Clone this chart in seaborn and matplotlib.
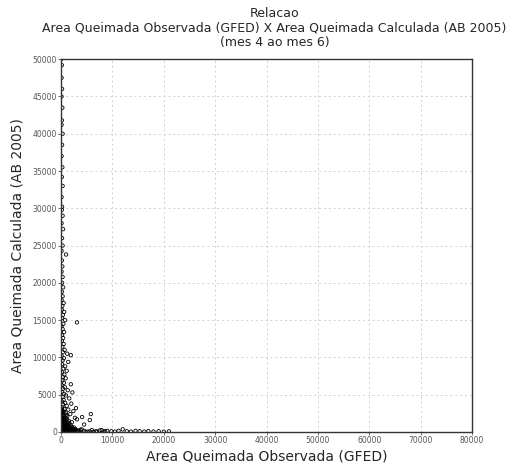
import numpy as np
import matplotlib
matplotlib.use('Agg')
import matplotlib.pyplot as plt
import seaborn as sns
import pandas as pd

# Points along the y axis (observed area small, calculated area large)
col_x = [0, 150, 100, 200, 100, 250, 150, 100, 300, 200, 100, 250, 150, 300, 100, 200, 150, 300,
         100, 400, 200, 300, 100, 980, 150, 250, 100, 300, 200, 400, 150, 300, 100, 500, 250, 150,
         600, 350, 200, 800, 3100, 450, 100, 300, 600, 200, 400, 150, 500, 250, 700, 350, 1200, 100,
         1900, 550, 300, 1400, 200, 800, 450, 1100, 150, 650, 350, 900, 250, 1900, 550, 100, 750,
         400, 1300, 200, 2200, 600, 950, 300, 1600, 500, 150, 800, 2000, 400, 1100, 250, 2900, 650,
         1400, 100, 2400, 500, 900, 300, 1800, 5800, 4100, 600, 1200, 200, 2700, 3100, 5600, 400,
         800, 1500, 100, 2100, 600, 1000, 300, 4500]
col_y = [50000, 49200, 47500, 46000, 45000, 43500, 41800, 41200, 40000, 38500, 37000, 35500,
         34200, 33000, 31500, 30200, 29800, 29000, 28000, 27200, 26000, 25000, 24300, 23800,
         23000, 22200, 21500, 20800, 20000, 19400, 18800, 18200, 17700, 17300, 16900, 16400,
         16100, 15700, 15300, 15000, 14700, 14500, 14200, 13800, 13400, 13000, 12600, 12200,
         11800, 11400, 11000, 10700, 10500, 10200, 10300, 9900, 9600, 9400, 9100, 8800, 8500,
         8200, 8000, 7700, 7400, 7200, 6900, 6400, 6600, 6300, 6000, 5800, 5600, 5400, 5300,
         5100, 4900, 4700, 4500, 4300, 4100, 3900, 3800, 3700, 3500, 3300, 3200, 3100, 3000,
         2900, 2800, 2700, 2600, 2500, 2400, 2400, 2000, 2200, 2100, 2000, 1900, 1700, 1600,
         1800, 1600, 1500, 1400, 1300, 1200, 1100, 1000, 1000]

# Dense cluster near the origin
base_x = [50, 200, 400, 600, 800, 1000, 1200, 1400, 1600, 1800, 100, 300, 500, 700, 900, 1100,
          1300, 1500, 1700, 150, 350, 550, 750, 950, 1150, 1350, 250, 450, 650, 850, 1050, 50,
          200, 400, 600, 800, 100, 300, 500, 700, 150, 350, 550, 250, 450, 50, 200, 100, 300, 150,
          2000, 2200, 2400, 1900, 2100, 2300, 2600, 1250, 1450, 1650, 1850, 700, 900, 1000, 1300,
          1100, 1600, 2500, 2800, 3000, 3300, 3600]
base_y = [100, 150, 80, 200, 120, 60, 180, 90, 40, 130, 400, 350, 450, 300, 380, 420, 280, 330,
          250, 650, 700, 600, 550, 680, 520, 580, 900, 850, 950, 800, 870, 1150, 1100, 1250, 1050,
          1200, 1450, 1550, 1400, 1350, 1750, 1700, 1850, 2150, 2250, 2450, 2550, 2750, 2850, 3050,
          100, 250, 60, 500, 700, 400, 150, 1000, 800, 650, 900, 1650, 1900, 2300, 1300, 1700,
          1200, 600, 300, 80, 200, 120]

# Points along the x axis (calculated area small)
band_x = [2500, 3200, 3800, 4500, 5200, 6000, 6800, 7500, 8200, 9000, 9800, 10500, 11200, 12000,
          12800, 13600, 14500, 15300, 16200, 17000, 18000, 19000, 20000, 21000, 2800, 4000, 5600,
          7000, 8600, 4800, 6300, 7900]
band_y = [200, 100, 300, 150, 50, 250, 100, 200, 50, 150, 100, 50, 150, 350, 100, 50, 150, 100,
          50, 120, 60, 100, 40, 80, 400, 350, 80, 30, 120, 30, 20, 250]

df = pd.DataFrame({'obs': col_x + base_x + band_x, 'calc': col_y + base_y + band_y})

sns.set_style('white')
plt.rcParams['font.family'] = ['DejaVu Sans']

fig, ax = plt.subplots(figsize=(5.13, 4.66), dpi=100)
fig.subplots_adjust(left=0.119, right=0.92, top=0.873, bottom=0.073)

sns.scatterplot(data=df, x='obs', y='calc', ax=ax, marker='o', s=6,
                facecolors='none', edgecolor='black', linewidth=0.6)

ax.set_xlim(0, 80000)
ax.set_ylim(0, 50000)
ax.set_xticks(np.arange(0, 80001, 10000))
ax.set_yticks(np.arange(0, 50001, 5000))
ax.grid(True, color='#d0d0d0', linestyle=(0, (2, 3)), linewidth=0.7)
ax.tick_params(labelsize=5.5, labelcolor='#555555', length=2, width=0.6, color='#555555',
               left=True, bottom=True, pad=1)
for sp in ax.spines.values():
    sp.set_color('#333333')
    sp.set_linewidth(1.0)

ax.set_xlabel('Area Queimada Observada (GFED)', fontsize=10, labelpad=3)
ax.set_ylabel('Area Queimada Calculada (AB 2005)', fontsize=10, labelpad=6)
fig.suptitle('Relacao\nArea Queimada Observada (GFED) X Area Queimada Calculada (AB 2005)\n(mes 4 ao mes 6)',
             fontsize=9, y=0.984, linespacing=1.12, x=0.535)

fig.savefig('out.png', dpi=100)
